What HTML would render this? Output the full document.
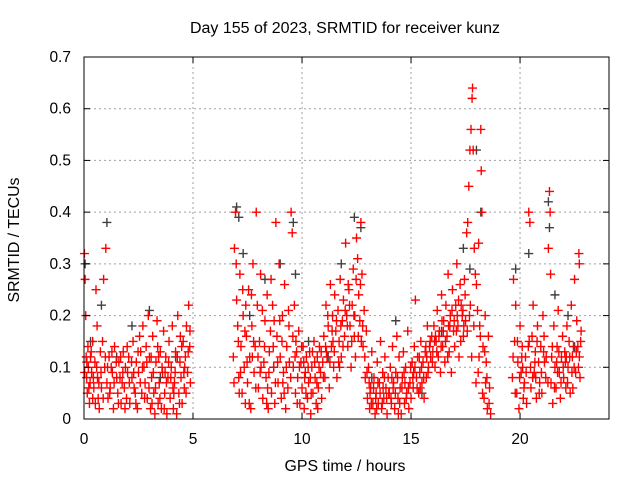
<!DOCTYPE html>
<html><head><meta charset="utf-8"><style>
body{margin:0;background:#fff}
svg{display:block;font-family:"Liberation Sans",sans-serif}
</style></head><body>
<svg id="chart" width="640" height="480" xmlns="http://www.w3.org/2000/svg">
<text x="345" y="33" font-size="15.5" text-anchor="middle" textLength="310" lengthAdjust="spacingAndGlyphs">Day 155 of 2023, SRMTID for receiver kunz</text>
<text x="345" y="471" font-size="15.5" text-anchor="middle" textLength="121" lengthAdjust="spacingAndGlyphs">GPS time / hours</text>
<text transform="translate(19,240) rotate(-90)" font-size="15.5" text-anchor="middle" textLength="125" lengthAdjust="spacingAndGlyphs">SRMTID / TECUs</text>
<g id="grid"></g>
<g id="blk"></g>
<g id="red"></g>
<g id="axes"></g>
</svg>
<script>
const xTicks=[0,5,10,15,20];
const yTicks=[0,0.1,0.2,0.3,0.4,0.5,0.6,0.7];
const yTickLabels=["0","0.1","0.2","0.3","0.4","0.5","0.6","0.7"];
const redData=[[0.02,.32],[0.05,.27],[0.08,.20],[0.1,.12],[0.12,.08],[0.15,.05],[0.18,.14],[0.2,.10],[0.25,.03],[0.28,.07],[0.3,.12],[0.35,.09],[0.4,.04],[0.45,.06],[0.5,.11],[0.55,.25],[0.6,.18],[0.62,.08],[0.7,.02],[0.75,.13],[0.8,.06],[0.85,.15],[0.9,.27],[0.95,.10],[1.0,.33],
[1.05,.07],[1.1,.04],[1.15,.12],[1.2,.06],[1.3,.09],[1.35,.02],[1.4,.14],[1.5,.08],[1.55,.05],[1.6,.11],[1.7,.03],[1.75,.07],[1.8,.13],[1.85,.06],[1.9,.10],[1.95,.04],[2.0,.09],
[2.05,.12],[2.1,.03],[2.2,.08],[2.25,.15],[2.3,.06],[2.4,.11],[2.45,.02],[2.5,.09],[2.6,.13],[2.65,.05],[2.7,.18],[2.75,.10],[2.8,.07],[2.85,.14],[2.9,.04],[2.95,.20],[3.0,.12],
[3.05,.02],[3.1,.08],[3.15,.16],[3.2,.05],[3.25,.01],[3.3,.11],[3.35,.19],[3.4,.03],[3.45,.07],[3.5,.13],[3.55,.02],[3.6,.09],[3.65,.17],[3.7,.05],[3.75,.12],[3.8,.01],[3.85,.08],[3.9,.15],[3.95,.04],
[4.0,.10],[4.05,.18],[4.1,.02],[4.15,.07],[4.2,.13],[4.25,.01],[4.3,.20],[4.35,.05],[4.4,.11],[4.45,.08],[4.5,.03],[4.55,.15],[4.6,.06],[4.65,.12],[4.7,.18],[4.75,.09],[4.8,.22],[4.85,.14],[4.88,.07],
[6.85,.12],[6.9,.33],[6.95,.40],[7.0,.23],[7.05,.18],[7.1,.08],[7.15,.28],[7.2,.14],[7.25,.05],[7.3,.20],[7.35,.10],[7.4,.03],[7.45,.16],[7.5,.07],[7.55,.25],[7.6,.12],[7.65,.02],[7.7,.18],[7.75,.30],[7.8,.09],[7.85,.14],[7.9,.40],[7.95,.22],
[8.0,.06],[8.05,.15],[8.1,.28],[8.2,.04],[8.25,.11],[8.3,.19],[8.35,.08],[8.4,.24],[8.45,.02],[8.5,.13],[8.55,.17],[8.6,.05],[8.65,.22],[8.7,.10],[8.75,.03],[8.8,.38],[8.85,.16],[8.9,.07],[8.95,.30],
[9.0,.12],[9.05,.04],[9.1,.20],[9.15,.09],[9.2,.26],[9.25,.02],[9.3,.14],[9.35,.06],[9.4,.18],[9.5,.40],[9.55,.36],[9.6,.10],[9.65,.22],[9.7,.05],[9.75,.13],[9.8,.08],[9.85,.17],[9.9,.03],[9.95,.11],
[10.0,.06],[10.05,.14],[10.1,.02],[10.15,.09],[10.2,.12],[10.25,.04],[10.3,.07],[10.35,.13],[10.4,.01],[10.45,.10],[10.5,.05],[10.55,.15],[10.6,.08],[10.65,.03],[10.7,.12],[10.75,.06],[10.8,.14],[10.85,.09],[10.9,.04],[10.95,.11],
[11.0,.16],[11.05,.08],[11.1,.22],[11.15,.12],[11.2,.18],[11.25,.06],[11.3,.26],[11.35,.14],[11.4,.20],[11.45,.10],[11.5,.24],[11.55,.17],[11.6,.08],[11.65,.21],[11.7,.15],[11.75,.27],[11.8,.12],[11.85,.19],[11.9,.23],[11.95,.16],
[12.0,.34],[12.05,.20],[12.1,.14],[12.15,.25],[12.2,.18],[12.25,.10],[12.3,.22],[12.35,.29],[12.4,.16],[12.45,.12],[12.5,.35],[12.55,.31],[12.6,.24],[12.65,.19],[12.7,.38],[12.75,.28],[12.8,.14],[12.85,.21],[12.9,.08],[12.95,.17],
[13.0,.04],[13.05,.10],[13.1,.02],[13.15,.06],[13.2,.13],[13.25,.03],[13.3,.08],[13.35,.01],[13.4,.05],[13.45,.11],[13.5,.03],[13.55,.07],[13.6,.15],[13.65,.02],[13.7,.09],[13.75,.04],[13.8,.12],[13.85,.06],[13.9,.01],[13.95,.08],
[14.0,.05],[14.05,.10],[14.1,.03],[14.15,.14],[14.2,.07],[14.25,.02],[14.3,.09],[14.35,.16],[14.4,.04],[14.45,.12],[14.5,.06],[14.55,.01],[14.6,.08],[14.65,.13],[14.7,.03],[14.75,.10],[14.8,.05],[14.85,.17],[14.9,.02],[14.95,.07],
[15.0,.04],[15.05,.11],[15.1,.06],[15.15,.14],[15.2,.23],[15.25,.08],[15.3,.12],[15.35,.05],[15.4,.09],[15.45,.15],[15.5,.07],[15.55,.11],[15.6,.04],[15.65,.13],[15.7,.08],[15.75,.18],[15.8,.10],[15.85,.14],[15.9,.12],[15.95,.16],
[16.0,.13],[16.05,.18],[16.1,.10],[16.15,.15],[16.2,.21],[16.25,.12],[16.3,.17],[16.35,.09],[16.4,.24],[16.45,.14],[16.5,.19],[16.55,.11],[16.6,.22],[16.65,.16],[16.7,.28],[16.75,.13],[16.8,.20],[16.85,.09],[16.9,.25],[16.95,.17],
[17.0,.14],[17.05,.22],[17.1,.30],[17.15,.18],[17.2,.12],[17.25,.26],[17.3,.22],[17.35,.20],[17.4,.16],[17.45,.27],[17.5,.19],[17.55,.36],[17.6,.38],[17.65,.45],[17.7,.52],[17.75,.56],[17.8,.62],[17.82,.64],[17.85,.52],[17.9,.33],[17.95,.28],
[18.0,.26],[18.05,.21],[18.1,.34],[18.15,.18],[18.2,.56],[18.22,.48],[18.25,.40],[18.3,.14],[18.35,.04],[18.4,.20],[18.45,.11],[18.5,.02],[18.55,.16],[18.6,.06],[18.65,.01],
[19.65,.08],[19.7,.27],[19.75,.15],[19.8,.22],[19.85,.05],[19.9,.11],[19.95,.02],[20.0,.18],[20.05,.09],[20.1,.14],[20.15,.04],[20.2,.07],[20.25,.12],[20.3,.03],[20.4,.40],[20.45,.38],[20.48,.10],
[20.5,.06],[20.55,.16],[20.6,.22],[20.65,.09],[20.7,.13],[20.75,.04],[20.8,.18],[20.85,.11],[20.9,.07],[20.95,.14],
[21.0,.05],[21.05,.20],[21.1,.16],[21.2,.12],[21.3,.33],[21.35,.44],[21.38,.40],[21.4,.28],[21.45,.12],[21.5,.03],[21.55,.18],[21.6,.10],[21.65,.06],[21.7,.14],[21.75,.21],[21.8,.09],[21.85,.04],[21.9,.12],[21.95,.16],
[22.0,.08],[22.05,.13],[22.1,.06],[22.15,.18],[22.2,.10],[22.25,.15],[22.3,.05],[22.35,.22],[22.4,.12],[22.45,.14],[22.5,.27],[22.55,.09],[22.6,.19],[22.65,.14],[22.7,.32],[22.72,.30],[22.75,.08],[22.8,.17],
[0.4,.15],[0.65,.04],[1.25,.10],[1.65,.08],[2.35,.05],[2.55,.16],[3.12,.03],[3.42,.12],[3.72,.09],[4.12,.05],[4.42,.16],[4.62,.10],[7.12,.05],[7.42,.22],[7.72,.12],[8.12,.10],[8.42,.06],[8.72,.19],[9.12,.07],[9.42,.11],[9.72,.15],[10.12,.08],[10.42,.05],[10.72,.02],[11.12,.13],[11.42,.15],[11.72,.10],[12.12,.26],[12.42,.20],[12.72,.15],[13.12,.05],[13.42,.02],[13.72,.06],[14.12,.08],[14.42,.01],[14.72,.07],[15.12,.09],[15.42,.06],[15.72,.12],[16.12,.16],[16.42,.19],[16.72,.18],[17.12,.20],[17.42,.18],[17.72,.22],[18.12,.12],[18.42,.07],[20.12,.10],[20.42,.15],[20.72,.08],[21.12,.11],[21.42,.07],[21.72,.09],[22.12,.12],[22.42,.06],[22.72,.12],
[0.03,.09],[0.13,.11],[0.22,.06],[0.33,.13],[0.43,.08],[0.52,.03],[0.58,.10],[0.68,.07],[0.78,.09],[0.88,.04],[0.98,.12],[1.08,.10],[1.18,.05],[1.28,.13],[1.38,.07],[1.48,.11],[1.58,.03],[1.68,.12],[1.78,.09],[1.88,.02],[1.98,.14],
[2.08,.07],[2.18,.11],[2.28,.09],[2.38,.03],[2.48,.13],[2.58,.07],[2.68,.10],[2.78,.04],[2.88,.11],[2.98,.06],[3.08,.12],[3.18,.09],[3.28,.06],[3.38,.14],[3.48,.04],[3.58,.10],[3.68,.02],[3.78,.07],[3.88,.11],[3.98,.08],
[4.08,.06],[4.18,.09],[4.28,.12],[4.38,.03],[4.48,.14],[4.58,.09],[4.68,.05],[4.78,.13],[4.86,.17],
[6.88,.07],[6.98,.30],[7.08,.15],[7.18,.09],[7.28,.25],[7.38,.17],[7.48,.11],[7.58,.03],[7.68,.24],[7.78,.15],[7.88,.06],[7.98,.12],
[8.08,.09],[8.18,.21],[8.28,.14],[8.38,.03],[8.48,.09],[8.58,.27],[8.68,.14],[8.78,.07],[8.88,.11],[8.98,.19],
[9.08,.15],[9.18,.05],[9.28,.10],[9.38,.21],[9.48,.08],[9.58,.16],[9.68,.12],[9.78,.03],[9.88,.10],[9.98,.14],
[10.08,.11],[10.18,.05],[10.28,.10],[10.38,.08],[10.48,.13],[10.58,.11],[10.68,.07],[10.78,.10],[10.88,.13],[10.98,.08],
[11.08,.14],[11.18,.20],[11.28,.11],[11.38,.17],[11.48,.13],[11.58,.19],[11.68,.11],[11.78,.18],[11.88,.14],[11.98,.21],
[12.08,.18],[12.18,.22],[12.28,.15],[12.38,.20],[12.48,.27],[12.58,.16],[12.68,.26],[12.78,.18],[12.88,.12],[12.98,.09],
[13.08,.07],[13.18,.03],[13.28,.06],[13.38,.04],[13.48,.07],[13.58,.05],[13.68,.03],[13.78,.08],[13.88,.04],[13.98,.05],
[14.08,.04],[14.18,.06],[14.28,.05],[14.38,.08],[14.48,.03],[14.58,.06],[14.68,.09],[14.78,.04],[14.88,.06],[14.98,.10],
[15.08,.08],[15.18,.10],[15.28,.06],[15.38,.12],[15.48,.10],[15.58,.08],[15.68,.14],[15.78,.09],[15.88,.15],[15.98,.11],
[16.08,.15],[16.18,.13],[16.28,.16],[16.38,.14],[16.48,.17],[16.58,.15],[16.68,.12],[16.78,.18],[16.88,.21],[16.98,.19],
[17.08,.17],[17.18,.23],[17.28,.15],[17.38,.21],[17.48,.24],[17.58,.17],[17.68,.20],[17.78,.12],[17.88,.18],[17.98,.07],
[18.08,.09],[18.18,.16],[18.28,.05],[18.38,.13],[18.48,.08],[18.58,.03],
[19.68,.12],[19.78,.05],[19.88,.15],[19.98,.08],[20.08,.12],[20.18,.06],[20.28,.09],[20.38,.14],[20.58,.08],[20.68,.11],[20.78,.15],[20.88,.05],[20.98,.09],
[21.08,.13],[21.18,.08],[21.28,.07],[21.48,.14],[21.58,.06],[21.68,.11],[21.78,.13],[21.88,.07],[21.98,.10],
[22.08,.11],[22.18,.07],[22.28,.12],[22.38,.09],[22.48,.10],[22.58,.13],[22.68,.10],[22.78,.15]];
const blackData=[[0.05,.30],[0.3,.15],[0.8,.22],[1.05,.38],[1.5,.12],[2.2,.18],[3.0,.21],[3.5,.08],[4.2,.12],[7.0,.41],[7.1,.39],[7.3,.32],[7.6,.20],[8.3,.27],[8.7,.10],[9.0,.30],[9.6,.38],[9.7,.28],[10.3,.15],[11.2,.12],[11.8,.30],[12.4,.39],[12.7,.37],[13.2,.08],[14.3,.19],[15.5,.05],[16.4,.17],[17.4,.33],[17.7,.29],[18.0,.52],[18.2,.40],[19.8,.29],[20.4,.32],[21.3,.42],[21.35,.37],[21.6,.24],[22.2,.20],[22.5,.14]];
const X0=84,X1=609,Y0=419,Y1=57,XMAX=24.08,YMAX=0.7;
function sx(t){return X0+(X1-X0)*t/XMAX;}
function sy(v){return Y0-(Y0-Y1)*v/YMAX;}
const NS="http://www.w3.org/2000/svg";
function mk(tag,attrs,parent){const e=document.createElementNS(NS,tag);for(const k in attrs)e.setAttribute(k,attrs[k]);parent.appendChild(e);return e;}
const grid=document.getElementById('grid'),axes=document.getElementById('axes');
xTicks.forEach((t,i)=>{
  const x=sx(t);
  if(t>0){const l=mk('line',{x1:x,y1:Y0,x2:x,y2:Y1,stroke:'#a0a0a0','stroke-dasharray':'2,3'},grid);
  
  }
  mk('line',{x1:x,y1:Y0,x2:x,y2:Y0-6,stroke:'#000'},axes);
  mk('line',{x1:x,y1:Y1,x2:x,y2:Y1+6,stroke:'#000'},axes);
  const tx=mk('text',{x:x,y:Y0+25,'font-size':15.5,'text-anchor':'middle'},axes);
  tx.textContent=String(t);
  
  
});
yTicks.forEach((v,i)=>{
  const y=sy(v);
  if(v>0&&v<0.7){const l=mk('line',{x1:X0,y1:y,x2:X1,y2:y,stroke:'#a0a0a0','stroke-dasharray':'2,3'},grid);
  
  }
  mk('line',{x1:X0,y1:y,x2:X0+6,y2:y,stroke:'#000'},axes);
  mk('line',{x1:X1,y1:y,x2:X1-6,y2:y,stroke:'#000'},axes);
  const tx=mk('text',{x:X0-13,y:y+5,'font-size':15.5,'text-anchor':'end'},axes);
  tx.textContent=yTickLabels[i];
  
  
});
const fr=mk('rect',{x:X0,y:Y1,width:X1-X0,height:Y0-Y1,fill:'none',stroke:'#000','stroke-width':1},axes);


function plus(g,t,v,col){
  const x=sx(t),y=sy(v);
  return mk('path',{d:`M${x-4.5},${y}H${x+4.5}M${x},${y-4.5}V${y+4.5}`,stroke:col,'stroke-width':1.4,fill:'none'},g);
}
const bg=document.getElementById('blk');
blackData.forEach(d=>{const p=plus(bg,d[0],d[1],'#404040');

});
const rg=document.getElementById('red');
redData.forEach(d=>{const p=plus(rg,d[0],d[1],'#ff0000');

});
</script>
</body></html>
